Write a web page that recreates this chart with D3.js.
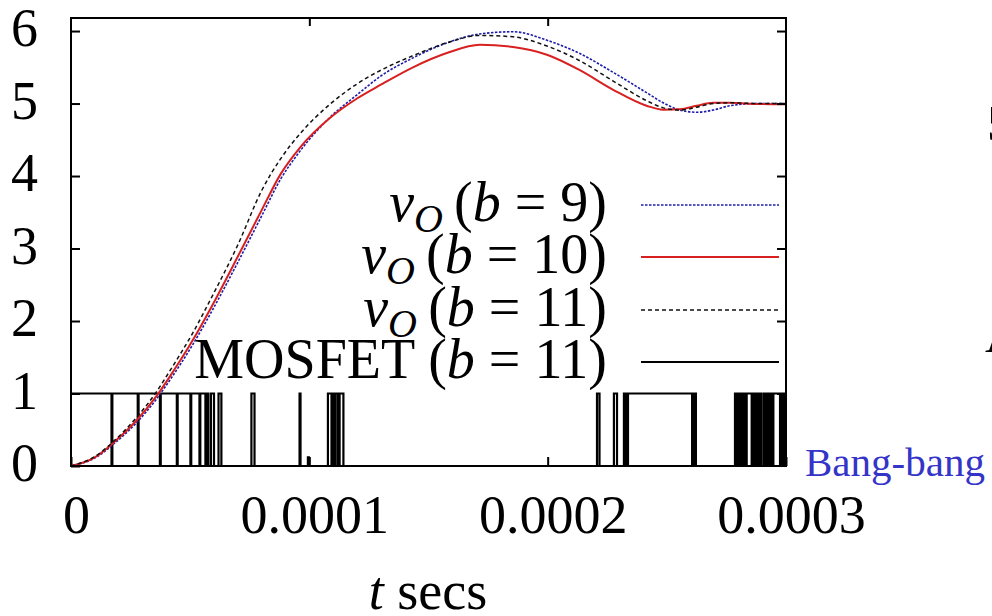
<!DOCTYPE html>
<html>
<head>
<meta charset="utf-8">
<script src="https://cdn.jsdelivr.net/npm/d3@7"></script>
<style>
  html, body { margin: 0; padding: 0; background: #fff; }
  svg { display: block; }
  text { font-family: "Liberation Serif", "DejaVu Serif", serif; fill: #000; }
</style>
</head>
<body>
<svg id="chart" width="992" height="616"></svg>
<script>
// ---------------- data ----------------
// time grid in microseconds
const timeUs = [0, 10, 18.5, 27, 36, 42, 51, 60, 70, 80, 88, 96, 109, 120, 130, 143.5, 158, 171.5, 185.5, 200, 213.5, 227.5, 241.5, 248.5, 255.5, 262.5, 269.5, 276.5, 288, 300];
// output voltage v_O for b = 9, 10, 11
const vB9  = [0, 0.11, 0.32, 0.58, 0.93, 1.21, 1.67, 2.19, 2.81, 3.45, 3.96, 4.34, 4.82, 5.12, 5.38, 5.63, 5.84, 5.96, 5.99, 5.87, 5.69, 5.43, 5.15, 5.01, 4.91, 4.88, 4.91, 4.97, 5.00, 5.00];
const vB10 = [0, 0.12, 0.34, 0.61, 0.97, 1.26, 1.73, 2.26, 2.89, 3.53, 4.03, 4.39, 4.81, 5.07, 5.26, 5.50, 5.70, 5.81, 5.78, 5.67, 5.46, 5.19, 4.97, 4.915, 4.92, 4.97, 5.01, 5.01, 4.995, 4.99];
const vB11 = [0, 0.13, 0.36, 0.65, 1.03, 1.34, 1.83, 2.39, 3.05, 3.80, 4.24, 4.58, 5.00, 5.27, 5.46, 5.66, 5.84, 5.94, 5.92, 5.79, 5.59, 5.31, 5.04, 4.94, 4.91, 4.95, 5.00, 5.01, 5.00, 5.00];

// MOSFET gate state (b = 11), step-after, time in microseconds
const mosfetTimeUs = [0,
  17.0, 17.35, 28.0, 28.35, 37.3, 37.65, 44.4, 44.75, 50.1, 50.45, 53.9, 54.25, 56.4, 56.75, 57.6,
  58.7, 60.0, 61.9, 63.1, 75.7, 77.0, 95.9, 96.3, 99.4, 99.8,
  107.8, 109.3, 109.9, 110.6, 111.0, 112.0, 112.7, 114.3,
  220.7, 221.75, 227.8, 229.1, 232.0, 232.9, 233.7, 260.6, 261.4, 262.2,
  278.6, 279.2, 279.6, 280.2, 280.6, 281.4, 282.1, 282.8, 283.5, 285.6,
  286.3, 286.8, 287.1, 287.5, 288.4, 288.9, 289.3, 289.8, 290.8, 291.4, 291.9, 292.6,
  293.3, 294.0, 294.7, 297.5, 298.2, 298.7, 299.1, 299.6, 300];
const mosfetState = [1,
  0, 1, 0, 1, 0, 1, 0, 1, 0, 1, 0, 1, 0, 1, 0,
  1, 0, 1, 0, 1, 0, 1, 0, 0.12, 0,
  1, 0, 1, 0, 1, 0, 1, 0,
  1, 0, 1, 0, 1, 0, 1, 0, 1, 0,
  1, 0, 1, 0, 1, 0, 1, 0, 1, 0,
  1, 0, 1, 0, 1, 0, 1, 0, 1, 0, 1, 0,
  1, 0, 1, 0, 1, 0, 1, 0, 0];

const yTicks = [0, 1, 2, 3, 4, 5, 6];
const xTicks = [0, 0.0001, 0.0002, 0.0003];
const xTickLabels = ["0", "0.0001", "0.0002", "0.0003"];
const legendB = ["9", "10", "11"];
const legendMosfet = "MOSFET";
const legendMosfetB = "11";

// ---------------- drawing ----------------
const svg = d3.select("#chart");
const x = d3.scaleLinear().domain([0, 0.0003]).range([71, 786]);
const y = d3.scaleLinear().domain([0, 6.18]).range([466, 18]);

// MOSFET square wave
const mosData = mosfetTimeUs.map((t, i) => ({ t: t * 1e-6, v: mosfetState[i] }));
svg.append("path")
  .datum(mosData)
  .attr("fill", "none")
  .attr("stroke", "#000")
  .attr("stroke-width", 2.2)
  .attr("d", d3.line().x(d => x(d.t)).y(d => y(d.v)).curve(d3.curveStepAfter));

// voltage curves
const series = [
  { v: vB9,  color: "#1c1ca8", width: 1.6, dash: "2.5,1.5" },
  { v: vB10, color: "#d82020", width: 2.0, dash: null },
  { v: vB11, color: "#111111", width: 1.5, dash: "4,3" }
];
const lineGen = d3.line().x(d => x(d.t)).y(d => y(d.v)).curve(d3.curveMonotoneX);
series.forEach(s => {
  const data = timeUs.map((t, i) => ({ t: t * 1e-6, v: s.v[i] }));
  svg.append("path")
    .datum(data)
    .attr("fill", "none")
    .attr("stroke", s.color)
    .attr("stroke-width", s.width)
    .attr("stroke-dasharray", s.dash)
    .attr("d", lineGen);
});

// axes (inward ticks)
const gl = svg.append("g").attr("transform", "translate(71,0)")
  .call(d3.axisLeft(y).tickValues(yTicks).tickSize(-9).tickPadding(33).tickFormat(d3.format("d")));
gl.selectAll("text").attr("dy", "0.27em").style("font-size", "54px");
const gr = svg.append("g").attr("transform", "translate(786,0)")
  .call(d3.axisRight(y).tickValues(yTicks.slice(1)).tickSize(-9).tickFormat(""));
const gb = svg.append("g").attr("transform", "translate(0,466)")
  .call(d3.axisBottom(x).tickValues(xTicks).tickSize(-9).tickPadding(31).tickFormat((d, i) => xTickLabels[i]));
gb.selectAll("text").attr("dy", "0.66em").attr("x", 5).style("font-size", "54px");
const gt = svg.append("g").attr("transform", "translate(0,18)")
  .call(d3.axisTop(x).tickValues(xTicks.slice(1, 3)).tickSize(-8).tickFormat(""));
[gl, gr, gb, gt].forEach(g => {
  g.select(".domain").remove();
  g.selectAll("line").attr("stroke", "#000").attr("stroke-width", 2);
});

// frame
svg.append("rect")
  .attr("x", x(0)).attr("y", y(6.18))
  .attr("width", x(0.0003) - x(0)).attr("height", y(0) - y(6.18))
  .attr("fill", "none").attr("stroke", "#000").attr("stroke-width", 2);

// legend
const legendRowsY = [205, 257, 310, 362];
const legendStyles = [series[0], series[1], series[2], { color: "#000", width: 2, dash: null }];
legendRowsY.forEach((ry, i) => {
  const t = svg.append("text")
    .attr("x", 607).attr("y", ry + 16)
    .attr("text-anchor", "end")
    .style("font-size", "56px");
  if (i < 3) {
    t.append("tspan").style("font-style", "italic").text("v");
    t.append("tspan").style("font-style", "italic").style("font-size", "40px").attr("dy", 11).text("O");
    t.append("tspan").attr("dy", -11).text("\u2009(");
    t.append("tspan").style("font-style", "italic").text("b");
    t.append("tspan").text(" = " + legendB[i] + ")");
  } else {
    t.append("tspan").text(legendMosfet + " (");
    t.append("tspan").style("font-style", "italic").text("b");
    t.append("tspan").text(" = " + legendMosfetB + ")");
  }
  const st = legendStyles[i];
  svg.append("line")
    .attr("x1", 641).attr("x2", 779)
    .attr("y1", ry).attr("y2", ry)
    .attr("stroke", st.color)
    .attr("stroke-width", st.width)
    .attr("stroke-dasharray", st.dash);
});

// axis title
const xt = svg.append("text").attr("x", 428).attr("y", 609).attr("text-anchor", "middle").style("font-size", "54px");
xt.append("tspan").style("font-style", "italic").text("t");
xt.append("tspan").text(" secs");

// side annotation
svg.append("text").attr("x", 805).attr("y", 476).style("font-size", "41px").style("fill", "#3434c8").text("Bang-bang");

// cut-off fragments at right edge
svg.append("text").attr("x", 987).attr("y", 140).style("font-size", "50px").text("5");
svg.append("text").attr("x", 985).attr("y", 352).style("font-size", "50px").text("A");
</script>
</body>
</html>
